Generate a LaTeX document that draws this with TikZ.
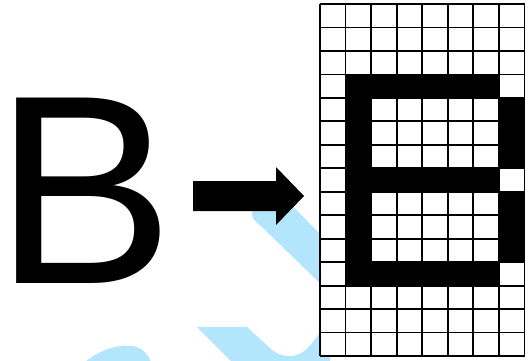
\documentclass[tikz,border=0pt]{standalone}
\usepackage{fontspec}
\setmainfont{Liberation Sans}
\definecolor{wmblue}{RGB}{179,229,252}
\tikzset{
  wm/.style={fill=wmblue},
  gridline/.style={draw=black, line width=1.8pt},
  pixel/.style={fill=black},
  bigletter/.style={anchor=base west, inner sep=0pt, font=\fontsize{269.6}{300}\selectfont},
  blockarrow/.style={fill=black}
}
\begin{document}
\begin{tikzpicture}[x=1pt,y=-1pt]
\useasboundingbox (0,0) rectangle (528,360);
% watermark pieces
\fill[wm] (252,205) -- (252,214) .. controls (252,220) and (258,223) .. (263,228) -- (330,293) -- (345,260) -- (285,198) -- cycle;
\fill[wm] (197,327) -- (247,327) -- (271,349) .. controls (281,358) and (299,361) .. (312,343) -- (330,320) -- (330,365) -- (235,365) -- cycle;
\fill[wm] (85,362) .. controls (100,350) and (115,345.5) .. (128,345.5) .. controls (140,346) and (147,352) .. (151,362) -- cycle;
% grid
\begin{scope}[shift={(320pt,-4pt)}, x=25.5625pt, y=-23.4667pt]
  \fill[white] (0,0) rectangle (8,15);
  \fill[pixel] (1,3) rectangle (7,4);
  \fill[pixel] (1,3) rectangle (2,12);
  \fill[pixel] (1,7) rectangle (7,8);
  \fill[pixel] (1,11) rectangle (7,12);
  \fill[pixel] (7,4) rectangle (8,7);
  \fill[pixel] (7,8) rectangle (8,11);
  \foreach \i in {0,...,8} { \draw[gridline] (\i,0) -- (\i,15); }
  \foreach \j in {0,...,15} { \draw[gridline] (0,\j) -- (8,\j); }
  \coordinate (grid) at (0,7.5);
\end{scope}
% letter
\node[bigletter] (letter) at (14,283) {\kern-19.7pt B};
% block arrow
\fill[blockarrow] (193,181) -- (276,181) -- (276,167) -- (304,196) -- (276,225) -- (276,211) -- (193,211) -- cycle;
\end{tikzpicture}
\end{document}
